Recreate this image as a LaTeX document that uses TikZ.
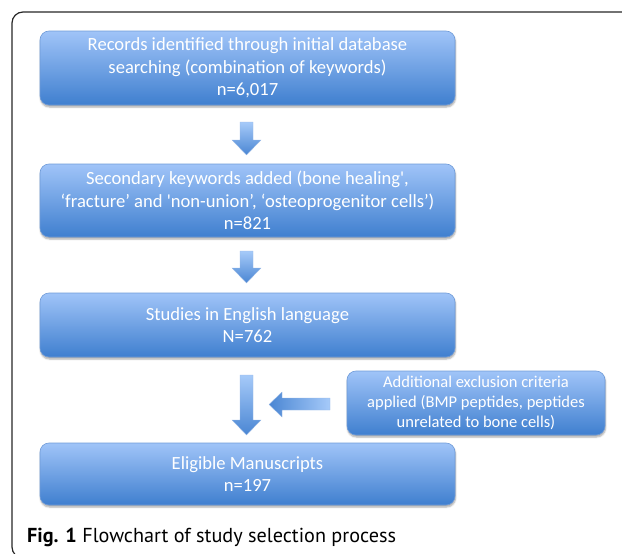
\documentclass[tikz,border=0pt]{standalone}
\usepackage{fontspec}
\newfontfamily\boxfont[Ligatures=TeXOff]{Carlito}
\newfontfamily\capfont{PT Sans}
\usetikzlibrary{shadows.blur,calc}
\definecolor{btop}{HTML}{A0C4F8}
\definecolor{bbot}{HTML}{3F7FCF}
\definecolor{bedge}{HTML}{6F9BD8}
\definecolor{atop}{HTML}{A6CAF9}
\definecolor{abot}{HTML}{4A86D3}
\tikzset{
  flowbox/.style={rounded corners=9pt, draw=bedge, line width=0.6pt,
    top color=btop, bottom color=bbot, text=white, align=center,
    font=\boxfont\fontsize{18.6}{22.5}\selectfont,
    blur shadow={shadow xshift=0.5pt, shadow yshift=-2pt, shadow blur steps=5, shadow opacity=35}},
  smallbox/.style={flowbox, font=\boxfont\fontsize{16.5}{20}\selectfont},
  downarr/.style={draw=bedge!70, line width=0.3pt, top color=atop, bottom color=abot},
  leftarr/.style={draw=bedge!70, line width=0.3pt, left color=abot, right color=atop},
  frame/.style={draw=black!85, line width=1.2pt, rounded corners=11pt}
}
\begin{document}
\begin{tikzpicture}[x=1pt,y=-1pt]
\useasboundingbox (0,0) rectangle (622,554);
\begin{scope}
\clip (0,0) rectangle (622,554);
\draw[frame] (12,12) rectangle (660,558);
\end{scope}
\node[flowbox, minimum width=415pt, minimum height=74pt] (b1) at (247.5,68)
  {Records identified through initial database\\searching (combination of keywords)\\n=6,017};
\node[flowbox, minimum width=415pt, minimum height=73pt] (b2) at (247.5,200.5)
  {Secondary keywords added (bone healing',\\‘fracture’ and 'non-union’, ‘osteoprogenitor cells’)\\n=821};
\node[flowbox, minimum width=415pt, minimum height=64pt] (b3) at (247.5,325)
  {Studies in English language\\N=762};
\node[smallbox, minimum width=258pt, minimum height=64pt] (b4) at (476,403)
  {Additional exclusion criteria\\applied (BMP peptides, peptides\\unrelated to bone cells)};
\node[flowbox, minimum width=415pt, minimum height=62pt] (b5) at (247.5,474)
  {Eligible Manuscripts\\n=197};
% down arrows
\path[downarr] (240,122) -- (253,122) -- (253,140) -- (261,140) -- (246.5,155) -- (232,140) -- (240,140) -- cycle;
\path[downarr] (240,251) -- (253,251) -- (253,268) -- (261,268) -- (246.5,283) -- (232,268) -- (240,268) -- cycle;
\path[downarr] (240,375) -- (253,375) -- (253,420) -- (261,420) -- (246.5,435) -- (232,420) -- (240,420) -- cycle;
% left arrow
\path[leftarr] (330,398) -- (282,398) -- (282,392) -- (269,404.5) -- (282,417) -- (282,410) -- (330,410) -- cycle;
\node[anchor=base west, inner sep=0pt, font=\capfont\fontsize{20.2}{22}\selectfont] (cap) at (27,542)
  {\textbf{Fig. 1} Flowchart of study selection process};
\end{tikzpicture}
\end{document}
